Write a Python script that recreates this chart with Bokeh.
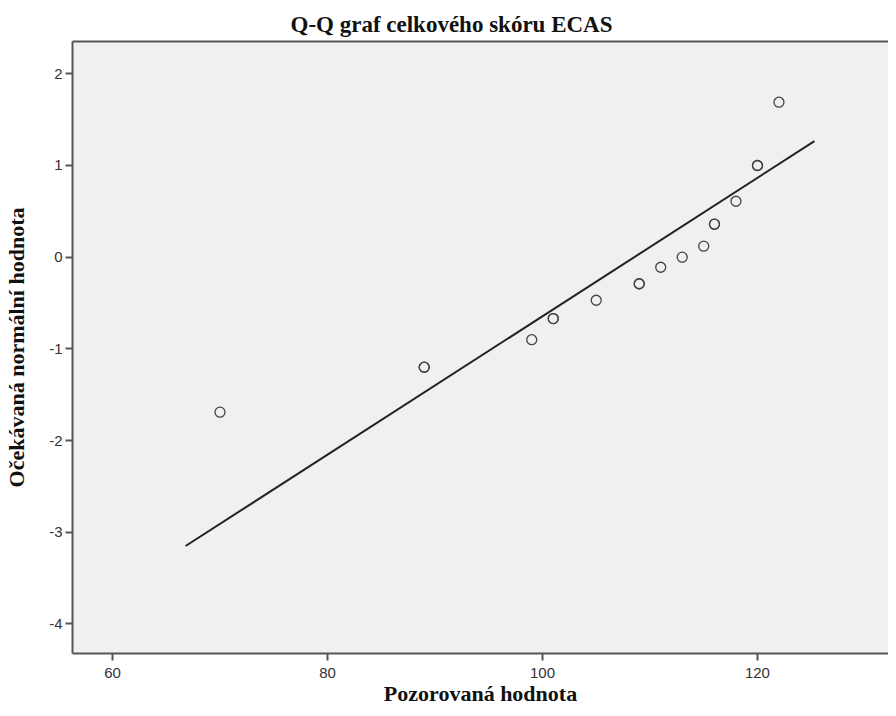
from bokeh.plotting import figure
from bokeh.models import LinearAxis, FixedTicker, Range1d
from bokeh.embed import file_html
from bokeh.resources import INLINE

# observed values (ties repeated) and their expected normal values
observed = [70, 89, 89, 99, 101, 101, 105, 109, 109, 111, 113, 115, 116, 116, 118, 120, 120, 122]
expected = [-1.69, -1.20, -1.20, -0.90, -0.67, -0.67, -0.47, -0.29, -0.29, -0.11, 0.0, 0.12,
            0.36, 0.36, 0.61, 1.0, 1.0, 1.69]
# reference line endpoints
line_x = [66.8, 125.3]
line_y = [-3.15, 1.265]

x_ticks = [60, 80, 100, 120]
y_ticks = [2, 1, 0, -1, -2, -3, -4]
y_tick_labels = ["2", "1", "0", "-1", "-2", "-3", "-4"]

p = figure(width=888, height=708, output_backend="svg", toolbar_location=None,
           x_range=Range1d(56.28, 132.19), y_range=Range1d(-4.322, 2.352),
           x_axis_label="Pozorovaná hodnota", y_axis_label="Očekávaná normální hodnota",
           min_border_left=72, min_border_right=0, min_border_top=41, min_border_bottom=55)

p.title.text = "Q-Q graf celkového skóru ECAS"
p.title.align = "left"
p.title.offset = 218
p.title.text_font = "Liberation Serif"
p.title.text_font_size = "23px"
p.title.text_font_style = "bold"
p.title.text_color = "#111111"

p.background_fill_color = "#F0F0F0"
p.border_fill_color = "white"
p.outline_line_color = None
p.grid.visible = False

for ax in (p.xaxis[0], p.yaxis[0]):
    ax.axis_line_color = "#555555"
    ax.axis_line_width = 2
    ax.major_tick_line_color = "#555555"
    ax.major_tick_line_width = 2
    ax.major_tick_in = 0
    ax.major_tick_out = 7
    ax.minor_tick_line_color = None
    ax.major_label_text_font = "Liberation Sans"
    ax.major_label_text_font_size = "15px"
    ax.major_label_text_color = "#333333"
    ax.axis_label_text_font = "Liberation Serif"
    ax.axis_label_text_font_size = "22px"
    ax.axis_label_text_font_style = "bold"
    ax.axis_label_text_color = "#111111"

p.xaxis[0].ticker = FixedTicker(ticks=x_ticks)
p.yaxis[0].ticker = FixedTicker(ticks=y_ticks)
p.yaxis[0].major_label_overrides = dict(zip(y_ticks, y_tick_labels))
p.xaxis[0].major_label_standoff = 7
p.yaxis[0].major_label_standoff = 3
p.xaxis[0].axis_label_standoff = 0
p.yaxis[0].axis_label_standoff = 17

top = LinearAxis(ticker=FixedTicker(ticks=[]), axis_line_color="#555555", axis_line_width=2,
                 major_tick_line_color=None, minor_tick_line_color=None,
                 major_label_text_font_size="0px")
p.add_layout(top, "above")

p.line(line_x, line_y, line_color="#222222", line_width=2)
p.scatter(observed, expected, size=10, marker="circle", fill_color=None,
          line_color="#444444", line_width=1.3)

open("out.html", "w").write(file_html(p, INLINE))
